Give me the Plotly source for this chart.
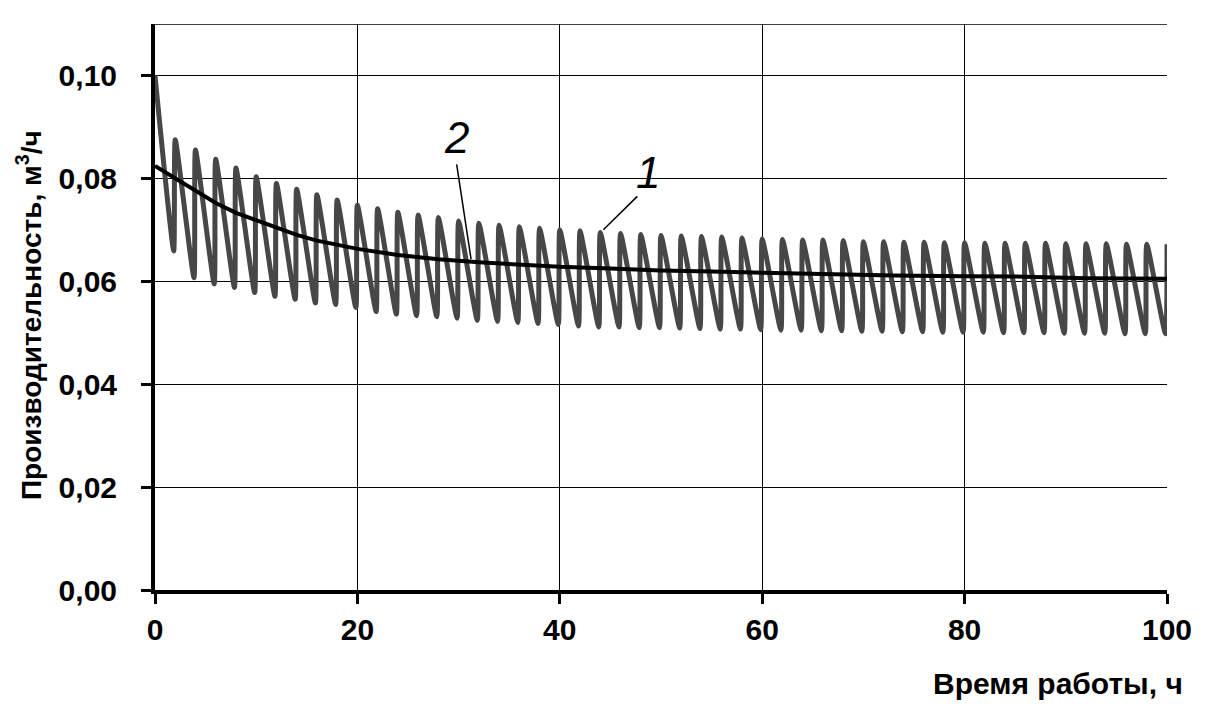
import plotly.graph_objects as go

# ---- data ----
peak_times = list(range(0, 102, 2))  # hours
peaks = [0.1000, 0.0875, 0.0855, 0.0837, 0.0820, 0.0803, 0.0790, 0.0779, 0.0768, 0.0758,
         0.0748, 0.0741, 0.0734, 0.0729, 0.0724, 0.0717, 0.0713, 0.0709, 0.0706, 0.0703,
         0.0700,
         0.0698, 0.0695, 0.0693, 0.0691, 0.0689, 0.0688, 0.0687, 0.0686, 0.0684, 0.0682,
         0.0681, 0.0680, 0.0680, 0.0679, 0.0677, 0.0677, 0.0676, 0.0676, 0.0675, 0.0675,
         0.0674, 0.0674, 0.0674, 0.0674, 0.0673, 0.0673, 0.0673, 0.0672, 0.0672, 0.0672]
troughs = [0.0659, 0.0607, 0.0595, 0.0588, 0.0578, 0.0571, 0.0565, 0.0558, 0.0555, 0.0549,
           0.0541, 0.0536, 0.0533, 0.0531, 0.0528, 0.0524, 0.0522, 0.0520, 0.0518, 0.0516,
           0.0513, 0.0511, 0.0511, 0.0510, 0.0510, 0.0509, 0.0508, 0.0507, 0.0507, 0.0506,
           0.0505, 0.0505, 0.0504, 0.0504, 0.0503, 0.0503, 0.0502, 0.0502, 0.0501, 0.0501,
           0.0501, 0.0500, 0.0500, 0.0500, 0.0499, 0.0499, 0.0499, 0.0498, 0.0498, 0.0498]
rise_duration = 0.15  # hours between a trough and the following peak

curve2_t = [0, 2, 4, 6, 8, 10, 12, 14, 16, 18, 20, 24, 28, 32, 36, 40, 45, 50, 55, 60,
            67, 73, 80, 86, 92, 100]
curve2_v = [0.0824, 0.0800, 0.0775, 0.0752, 0.0733, 0.0718, 0.0704, 0.0690, 0.0679, 0.0670,
            0.0663, 0.0651, 0.0643, 0.0637, 0.0633, 0.0628, 0.0625, 0.0621, 0.0619, 0.0617,
            0.0613, 0.0611, 0.0610, 0.0609, 0.0606, 0.0605]

x_ticks = [0, 20, 40, 60, 80, 100]
y_ticks = [0.00, 0.02, 0.04, 0.06, 0.08, 0.10]

# build sawtooth
x1 = [peak_times[0]]
y1 = [peaks[0]]
for i in range(1, len(peak_times)):
    x1 += [peak_times[i] - rise_duration, peak_times[i]]
    y1 += [troughs[i - 1], peaks[i]]

FONT = "Arial, Liberation Sans, sans-serif"

fig = go.Figure()
fig.add_trace(go.Scatter(x=x1, y=y1, mode="lines",
                         line=dict(color="#474747", width=5, shape="spline", smoothing=0.5),
                         name="1"))
fig.add_trace(go.Scatter(x=curve2_t, y=curve2_v, mode="lines",
                         line=dict(color="#000000", width=4), name="2"))

# top border
fig.add_shape(type="line", x0=0, x1=100, y0=0.11, y1=0.11, xref="x", yref="y",
              line=dict(color="black", width=1.5))

# labels with leader lines
fig.add_shape(type="line", x0=29.81, y0=0.0827, x1=31.23, y1=0.0643, xref="x", yref="y",
              line=dict(color="black", width=1.5))
fig.add_shape(type="line", x0=47.66, y0=0.0765, x1=44.3, y1=0.0700, xref="x", yref="y",
              line=dict(color="black", width=1.5))
fig.add_annotation(x=29.81, y=0.0879, text="<i>2</i>", showarrow=False,
                   font=dict(family=FONT, size=44, color="black"))
fig.add_annotation(x=48.75, y=0.0811, text="<i>1</i>", showarrow=False,
                   font=dict(family=FONT, size=44, color="black"))

# axis titles
fig.add_annotation(x=1.018, y=-0.165, xref="paper", yref="paper", xanchor="right",
                   yanchor="middle", text="<b>Время работы, ч</b>", showarrow=False,
                   font=dict(family=FONT, size=30, color="black"))
fig.add_annotation(x=-0.124, y=0.485, xref="paper", yref="paper", xanchor="center",
                   yanchor="middle", textangle=-90,
                   text="<b>Производительность, м<sup>3</sup>/ч</b>", showarrow=False,
                   font=dict(family=FONT, size=28, color="black"))

# page body has an 8px default margin, so the figure is offset by 8px
fig.update_layout(
    width=1197, height=703,
    margin=dict(l=147, r=38, t=16, b=121),
    paper_bgcolor="white", plot_bgcolor="white",
    showlegend=False,
    font=dict(family=FONT, color="black"),
)
fig.update_xaxes(range=[0, 100], tickvals=x_ticks, ticktext=[f"<b>{v}</b>" for v in x_ticks],
                 showgrid=True, gridcolor="black", gridwidth=1,
                 showline=True, linecolor="black", linewidth=4,
                 ticks="outside", ticklen=10, tickwidth=3, tickcolor="black",
                 tickfont=dict(family=FONT, size=30, color="black"),
                 zeroline=False)
fig.update_yaxes(range=[0, 0.11], tickvals=y_ticks,
                 ticktext=[f"<b>{v:.2f}</b>".replace(".", ",") for v in y_ticks],
                 showgrid=True, gridcolor="black", gridwidth=1,
                 showline=True, linecolor="black", linewidth=4,
                 ticks="outside", ticklen=10, tickwidth=3, tickcolor="black",
                 tickfont=dict(family=FONT, size=30, color="black"),
                 ticklabelstandoff=18,
                 zeroline=False)

fig.write_html("out.html")
